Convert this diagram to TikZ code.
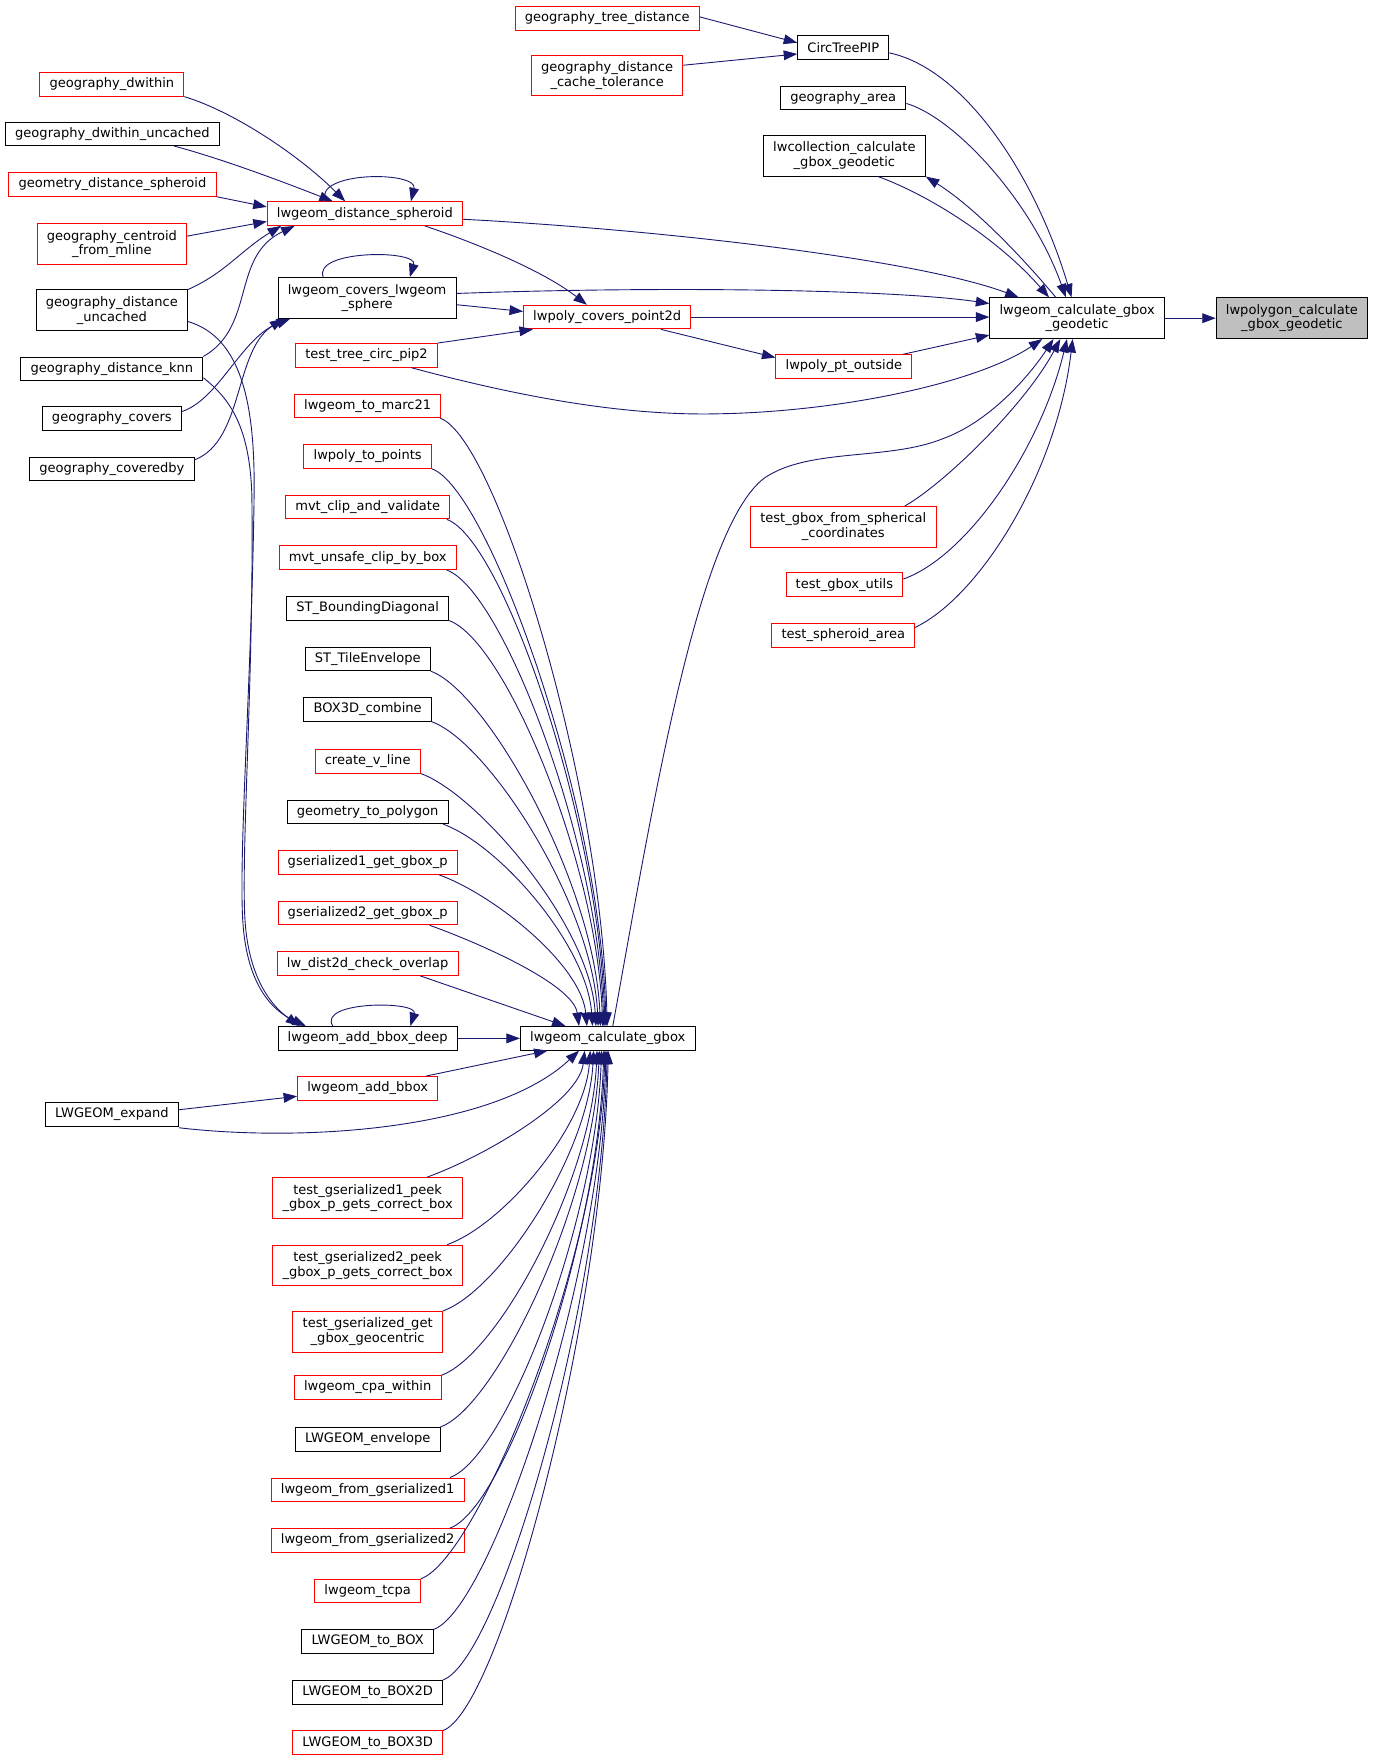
\documentclass[tikz,border=0pt]{standalone}
\usepackage{fontspec}
\setmainfont{DejaVu Sans}
\usetikzlibrary{arrows.meta,calc}
\definecolor{edgeblue}{HTML}{191970}
\definecolor{curgray}{HTML}{BFBFBF}

\tikzset{
  fn/.style={draw=black, rectangle, inner xsep=6.5pt, inner ysep=0pt, minimum height=15.8pt,
    line width=0.6pt, align=center, font=\fontsize{8.7}{9.8}\selectfont},
  fntwo/.style={fn, minimum height=27.2pt},
  fnred/.style={fn, draw=red},
  fnredtwo/.style={fntwo, draw=red},
  fncur/.style={fntwo, fill=curgray},
  call/.style={edgeblue, line width=0.6pt, -{Triangle[length=9pt, width=6.5pt]}},
}

\begin{document}
\begin{tikzpicture}[x=0.75pt, y=-0.75pt]
  \useasboundingbox (0,0) rectangle (1223,1568);

  % Function and its direct callers
  \node[fncur] (cur) at (1149,283) {lwpolygon\_calculate\\\_gbox\_geodetic};
  \node[fntwo] (geo) at (958,283) {lwgeom\_calculate\_gbox\\\_geodetic};
  \node[fn] (circ) at (750,42.5) {CircTreePIP};
  \node[fnred] (gtd) at (540,16.5) {geography\_tree\_distance};
  \node[fnredtwo] (gdct) at (540,67) {geography\_distance\\\_cache\_tolerance};
  \node[fn] (garea) at (750,87) {geography\_area};
  \node[fntwo] (lwcoll) at (751,138.5) {lwcollection\_calculate\\\_gbox\_geodetic};
  \node[fnred] (dsph) at (324.5,190) {lwgeom\_distance\_spheroid};
  \node[fntwo] (csph) at (326.5,265) {lwgeom\_covers\_lwgeom\\\_sphere};
  \node[fnred] (cpt) at (540,282) {lwpoly\_covers\_point2d};
  \node[fnred] (pto) at (750.5,326) {lwpoly\_pt\_outside};
  \node[fnred] (tcp) at (326,316) {test\_tree\_circ\_pip2};
  \node[fnredtwo] (tgs) at (750,468.5) {test\_gbox\_from\_spherical\\\_coordinates};
  \node[fnred] (tgu) at (751,520) {test\_gbox\_utils};
  \node[fnred] (tsa) at (750,565) {test\_spheroid\_area};

  % Left column
  \node[fnred] (gdw) at (99.5,75) {geography\_dwithin};
  \node[fn] (gdwu) at (100,119) {geography\_dwithin\_uncached};
  \node[fnred] (gds) at (100,164) {geometry\_distance\_spheroid};
  \node[fnredtwo] (gcm) at (99.5,217) {geography\_centroid\\\_from\_mline};
  \node[fntwo] (gdu) at (99.5,276) {geography\_distance\\\_uncached};
  \node[fn] (gdk) at (99.5,328) {geography\_distance\_knn};
  \node[fn] (gcov) at (99.5,372) {geography\_covers};
  \node[fn] (gcby) at (99.5,417) {geography\_coveredby};
  \node[fn] (expand) at (99.5,991) {LWGEOM\_expand};

  % Middle column
  \node[fnred] (marc) at (327,361) {lwgeom\_to\_marc21};
  \node[fnred] (topts) at (327,406) {lwpoly\_to\_points};
  \node[fnred] (mvtclip) at (327,451) {mvt\_clip\_and\_validate};
  \node[fnred] (mvtunsafe) at (327,496) {mvt\_unsafe\_clip\_by\_box};
  \node[fn] (stbd) at (327,541) {ST\_BoundingDiagonal};
  \node[fn] (sttile) at (327,586) {ST\_TileEnvelope};
  \node[fn] (box3dc) at (327,631) {BOX3D\_combine};
  \node[fnred] (vline) at (327,677) {create\_v\_line};
  \node[fn] (geompoly) at (327,722) {geometry\_to\_polygon};
  \node[fnred] (gs1) at (327,767) {gserialized1\_get\_gbox\_p};
  \node[fnred] (gs2) at (327,812) {gserialized2\_get\_gbox\_p};
  \node[fnred] (overlap) at (327,857) {lw\_dist2d\_check\_overlap};
  \node[fn] (bbdeep) at (327,923.5) {lwgeom\_add\_bbox\_deep};
  \node[fn] (calc) at (540.5,923.5) {lwgeom\_calculate\_gbox};
  \node[fnred] (addbbox) at (327,968) {lwgeom\_add\_bbox};
  \node[fnredtwo] (tgs1) at (327,1065.5) {test\_gserialized1\_peek\\\_gbox\_p\_gets\_correct\_box};
  \node[fnredtwo] (tgs2) at (327,1125.5) {test\_gserialized2\_peek\\\_gbox\_p\_gets\_correct\_box};
  \node[fnredtwo] (tgget) at (327,1184.5) {test\_gserialized\_get\\\_gbox\_geocentric};
  \node[fnred] (cpa) at (327,1234) {lwgeom\_cpa\_within};
  \node[fn] (envl) at (327,1280) {LWGEOM\_envelope};
  \node[fnred] (fromgs1) at (327,1325) {lwgeom\_from\_gserialized1};
  \node[fnred] (fromgs2) at (327,1370) {lwgeom\_from\_gserialized2};
  \node[fnred] (tcpa) at (327,1415) {lwgeom\_tcpa};
  \node[fn] (tobox) at (327,1460) {LWGEOM\_to\_BOX};
  \node[fn] (tobox2d) at (327,1505) {LWGEOM\_to\_BOX2D};
  \node[fnred] (tobox3d) at (327,1550) {LWGEOM\_to\_BOX3D};

  % Edges into the function
  \draw[call] (geo.east) -- (cur.west);
  \draw[call] (circ.east |- 0,47) .. controls (860,62) and (922,160) .. (953,0 |- geo.north);
  \draw[call] (garea.east |- 0,92) .. controls (850,105) and (918,180) .. (948,0 |- geo.north);
  \draw[call] (781,0 |- lwcoll.south) .. controls (830,175) and (890,215) .. (933,0 |- geo.north);
  \draw[call] (939,0 |- geo.north) .. controls (912,232) and (868,185) .. (lwcoll.south east);
  \draw[call] (dsph.east |- 0,195) .. controls (600,205) and (820,232) .. (906,0 |- geo.north);
  \draw[call] (csph.east |- 0,261) .. controls (600,254) and (800,258) .. (geo.west |- 0,270);
  \draw[call] (cpt.east) -- (geo.west |- cpt.east);
  \draw[call] ($(pto.north east)+(-8,0)$) -- (geo.west |- 0,298);
  \draw[call] ($(tcp.south east)+(-24,0)$) .. controls (470,355) and (560,370) .. (640,368)
    .. controls (750,366) and (870,340) .. (927,0 |- geo.south);
  \draw[call] (545,0 |- calc.north) .. controls (580,720) and (620,470) .. (680,425)
    .. controls (720,398) and (790,410) .. (839,390) .. controls (880,375) and (915,335) .. (937,0 |- geo.south);
  \draw[call] ($(tgs.north east)+(-28,0)$) .. controls (840,430) and (912,360) .. (943,0 |- geo.south);
  \draw[call] (tgu.east |- 0,515) .. controls (860,495) and (925,400) .. (949,0 |- geo.south);
  \draw[call] (tsa.east |- 0,558) .. controls (872,530) and (940,420) .. (954,0 |- geo.south);

  % CircTreePIP
  \draw[call] (gtd.east |- 0,15) -- (circ.west |- 0,38);
  \draw[call] (gdct.east |- 0,58) -- (circ.west |- 0,48);

  % lwgeom_distance_spheroid
  \draw[call] ($(dsph.north)+(-35,0)$) .. controls (278,152) and (372,152) .. ($(dsph.north)+(41,0)$);
  \draw[call] (gdw.south east) .. controls (210,100) and (268,140) .. (307,0 |- dsph.north);
  \draw[call] (155,0 |- gdwu.south) .. controls (200,142) and (255,163) .. (296,0 |- dsph.north);
  \draw[call] (gds.south east) -- (dsph.west |- 0,184);
  \draw[call] (gcm.east |- 0,210) -- (dsph.west |- 0,197);
  \draw[call] (gdu.north east) .. controls (200,243) and (215,222) .. (250,0 |- dsph.south);
  \draw[call] (gdk.north east) .. controls (228,290) and (205,228) .. (262,0 |- dsph.south);
  \draw[call] ($(dsph.south east)+(-34,0)$) .. controls (420,215) and (482,240) .. (522,0 |- cpt.north);

  % lwgeom_covers_lwgeom_sphere
  \draw[call] ($(csph.north)+(-39,0)$) .. controls (278,222) and (372,222) .. ($(csph.north)+(38,0)$);
  \draw[call] (csph.east |- 0,271) -- (cpt.west |- 0,277);
  \draw[call] (gcov.east |- 0,366) .. controls (195,355) and (215,300) .. (258,0 |- csph.south);
  \draw[call] (gcby.east |- 0,409) .. controls (217,392) and (208,312) .. (252,0 |- csph.south);

  % lwpoly_covers_point2d
  \draw[call] (tcp.north east) -- (474,0 |- cpt.south);
  \draw[call] ($(cpt.south east)+(-27,0)$) -- (pto.west |- 0,318);

  % lwgeom_add_bbox_deep
  \draw[call] (gdu.east |- 0,286) .. controls (215,300) and (227,360) .. (226,440)
    .. controls (224,600) and (212,760) .. (216,820) .. controls (220,880) and (245,900) .. (272,0 |- bbdeep.north);
  \draw[call] (gdk.east |- 0,336) .. controls (205,355) and (222,380) .. (224,440)
    .. controls (226,600) and (214,760) .. (218,820) .. controls (222,875) and (245,897) .. (266,0 |- bbdeep.north);
  \draw[call] ($(bbdeep.north)+(-31,0)$) .. controls (282,890) and (372,890) .. ($(bbdeep.north)+(38,0)$);

  % lwgeom_calculate_gbox
  \draw[call] (bbdeep.east) -- (calc.west);
  \draw[call] ($(addbbox.north east)+(-11,0)$) -- (487,0 |- calc.south);
  \draw[call] (expand.east |- 0,987) -- (addbbox.west |- 0,975);
  \draw[call] (expand.east |- 0,1003) .. controls (270,1016) and (440,1005) .. (515,0 |- calc.south);
  \draw[call] ($(overlap.south east)+(-34,0)$) -- (503,0 |- calc.north);
  \foreach \n/\s/\t/\h in {marc/1/540/217, topts/0/539/199, mvtclip/3/538/181, mvtunsafe/9/537/163,
      stbd/0/536/145, sttile/0/534/127, box3dc/0/532/109, vline/0/530/90, geompoly/5/527/72,
      gs1/17/522/54, gs2/25/515/36}
    \draw[call] ($(\n.south east)+(-\s,0)$) .. controls +(50,18) and +(-5,-\h) .. (\t,0 |- calc.north);
  \foreach \n/\s/\t/\h in {tgs1/32/520/45, tgs2/14/525/69, tgget/0/528/93, cpa/0/531/116,
      envl/0/533/134, fromgs1/13/535/152, fromgs2/13/537/170, tcpa/0/538/188, tobox/0/539/206,
      tobox2d/0/540/228, tobox3d/0/541/244}
    \draw[call] ($(\n.north east)+(-\s,0)$) .. controls +(50,-18) and +(-5,\h) .. (\t,0 |- calc.south);
\end{tikzpicture}
\end{document}
